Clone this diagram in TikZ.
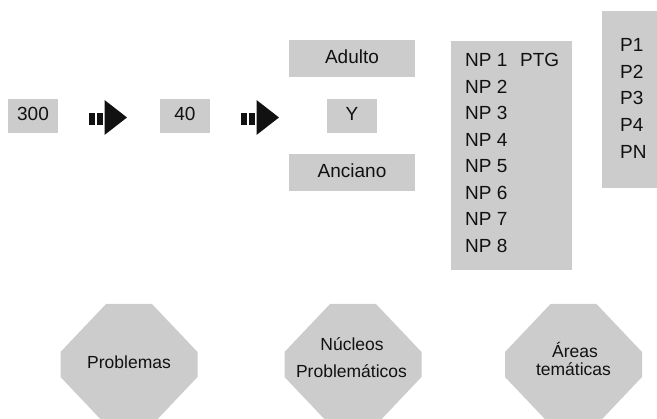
\documentclass[tikz,border=0pt]{standalone}
\usepackage{fontspec}
\setmainfont{Liberation Sans}
\definecolor{boxgray}{HTML}{CCCCCC}
\definecolor{ink}{HTML}{111111}
\tikzset{
  graybox/.style={fill=boxgray, inner sep=0pt, text=ink,
    font=\fontsize{19}{22}\selectfont, text height=13.5pt, text depth=4pt},
  listtext/.style={anchor=base west, inner sep=0pt, text=ink,
    font=\fontsize{19}{22}\selectfont},
  octtext/.style={anchor=base, inner sep=0pt, text=ink,
    font=\fontsize{17.5}{20}\selectfont},
  arrowfill/.style={fill=ink}
}
\newcommand{\octagonat}[1]{%
  \fill[boxgray] (#1-23,304) -- (#1+23,304) -- (#1+68.5,352) -- (#1+68.5,377)
    -- (#1+23,425) -- (#1-23,425) -- (#1-68.5,377) -- (#1-68.5,352) -- cycle;}
\begin{document}
\begin{tikzpicture}[x=1pt,y=-1pt]
\useasboundingbox (0,0) rectangle (657,419);
\clip (0,0) rectangle (657,419);

% left boxes
\node[graybox, minimum width=50pt, minimum height=34pt] (b300) at (33,116) {300};
\node[graybox, minimum width=50pt, minimum height=34pt] (b40) at (185,116) {40};

% block arrows
\fill[arrowfill] (89,113) rectangle (95,125);
\fill[arrowfill] (97,113) rectangle (103,125);
\fill[arrowfill] (104.5,100) -- (127,117.5) -- (104.5,135) -- cycle;
\fill[arrowfill] (241,113) rectangle (247,125);
\fill[arrowfill] (249,113) rectangle (255,125);
\fill[arrowfill] (256.5,100) -- (279,117.5) -- (256.5,135) -- cycle;

% middle boxes
\node[graybox, minimum width=126pt, minimum height=37pt] (adulto) at (352,58.5) {Adulto};
\node[graybox, minimum width=50pt, minimum height=34pt] (y) at (352,116) {Y};
\node[graybox, minimum width=126pt, minimum height=37pt] (anciano) at (352,172.5) {Anciano};

% NP box
\node[fill=boxgray, inner sep=0pt, minimum width=121pt, minimum height=229pt] (npbox) at (511.5,155.5) {};
\foreach \i in {1,...,8} {
  \node[listtext] (np\i) at (465,{66.7+26.5*(\i-1)}) {NP \i};
}
\node[listtext] (ptg) at (520,66.7) {PTG};

% P box
\node[fill=boxgray, inner sep=0pt, minimum width=60pt, minimum height=177pt] (pbox) at (632,99.5) {};
\foreach \t [count=\k] in {P1,P2,P3,P4,PN} {
  \node[listtext] (p\k) at (620,{51.7+26.65*(\k-1)}) {\t};
}

% octagons
\octagonat{129}
\octagonat{353}
\octagonat{573.5}
\node[octtext] (problemas) at (129,369) {Problemas};
\node[octtext] (nucleos) at (352,351) {Núcleos};
\node[octtext] (problematicos) at (351.5,378) {Problemáticos};
\node[octtext] (areas) at (575,358) {Áreas};
\node[octtext] (tematicas) at (573.5,376) {temáticas};
\end{tikzpicture}
\end{document}
